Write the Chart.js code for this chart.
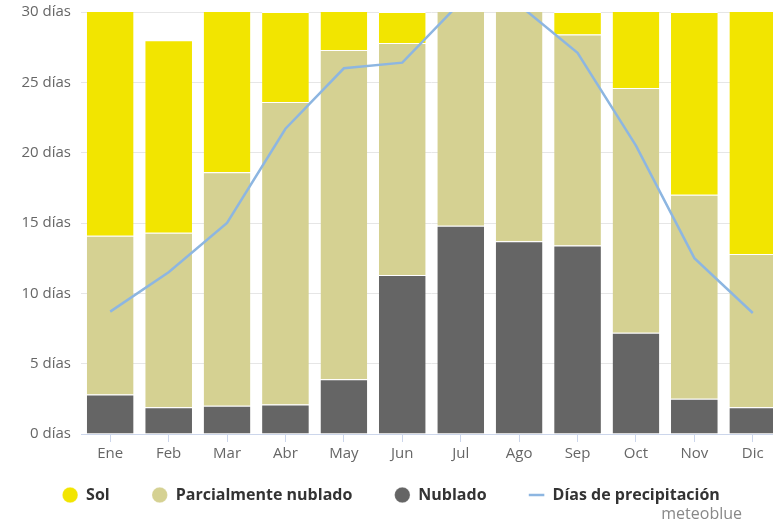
<!DOCTYPE html>
<html>
<head>
<meta charset="utf-8">
<script src="https://cdn.jsdelivr.net/npm/chart.js@4.4.1/dist/chart.umd.min.js"></script>
<style>
  html, body { margin: 0; padding: 0; background: #fff; overflow: hidden; }
  #wrap { position: relative; width: 790px; height: 524px; }
</style>
</head>
<body>
<div id="wrap"><canvas id="cloudChart"></canvas></div>
<script>
const meses = ['Ene', 'Feb', 'Mar', 'Abr', 'May', 'Jun', 'Jul', 'Ago', 'Sep', 'Oct', 'Nov', 'Dic'];

// días por mes y tipo de cielo (se apilan de abajo hacia arriba)
const nublado = [2.8, 1.9, 2.0, 2.1, 3.9, 11.3, 14.8, 13.7, 13.4, 7.2, 2.5, 1.9];
const parcialmenteNublado = [11.3, 12.4, 16.6, 21.5, 23.4, 16.5, 15.8, 16.9, 15.0, 17.4, 14.5, 10.9];
const sol = [16.9, 13.7, 12.4, 6.4, 3.7, 2.2, 0.4, 0.4, 1.6, 6.4, 13.0, 18.2];
const diasPrecipitacion = [8.7, 11.5, 15.0, 21.7, 26.0, 26.4, 30.7, 30.5, 27.1, 20.5, 12.5, 8.6];

const yTicks = [0, 5, 10, 15, 20, 25, 30];

const FONT = "'Open Sans', sans-serif";

// marca de agua "meteoblue" abajo a la derecha
const creditPlugin = {
    id: 'credit',
    afterDraw(chart) {
        const ctx = chart.ctx;
        ctx.save();
        ctx.font = '16px ' + FONT;
        ctx.fillStyle = '#888';
        ctx.textAlign = 'right';
        ctx.textBaseline = 'middle';
        ctx.fillText('meteoblue', chart.chartArea.right - 40, chart.height - 10);
        ctx.restore();
    }
};

// la leyenda ocupa menos alto y se dibuja más cerca del eje x
const legendTrim = {
    id: 'legendTrim',
    afterInit(chart) {
        const legend = chart.legend;
        const fit = legend.fit;
        legend.fit = function () {
            fit.call(this);
            this.height -= 22;
        };
    },
    afterLayout(chart) {
        chart.legend.top -= 21;
    }
};

const legendOrder = [2, 1, 0, 3];

new Chart(document.getElementById('cloudChart'), {
    type: 'bar',
    data: {
        labels: meses,
        datasets: [
            {
                label: 'Nublado',
                data: nublado,
                backgroundColor: '#656565',
                borderColor: '#ffffff',
                borderWidth: { top: 1 },
                borderSkipped: 'bottom',
                pointStyle: 'circle',
                order: 1
            },
            {
                label: 'Parcialmente nublado',
                data: parcialmenteNublado,
                backgroundColor: '#d5d192',
                borderColor: '#ffffff',
                borderWidth: { top: 1 },
                borderSkipped: 'bottom',
                pointStyle: 'circle',
                order: 1
            },
            {
                label: 'Sol',
                data: sol,
                backgroundColor: '#f2e500',
                borderColor: '#ffffff',
                borderWidth: { top: 1 },
                borderSkipped: 'bottom',
                pointStyle: 'circle',
                order: 1
            },
            {
                type: 'line',
                label: 'Días de precipitación',
                data: diasPrecipitacion,
                borderColor: '#8db6e1',
                backgroundColor: '#8db6e1',
                borderWidth: 2.5,
                pointRadius: 0,
                pointStyle: 'line',
                tension: 0,
                stack: 'precip',
                order: 0
            }
        ]
    },
    options: {
        responsive: true,
        maintainAspectRatio: false,
        animation: false,
        datasets: {
            bar: { barPercentage: 0.8, categoryPercentage: 1 }
        },
        layout: { padding: { top: 12, right: 8, bottom: 12 } },
        plugins: {
            tooltip: { enabled: false },
            legend: {
                position: 'bottom',
                labels: {
                    usePointStyle: true,
                    boxHeight: 11,
                    padding: 42,
                    color: '#333',
                    font: { family: FONT, size: 16, weight: 'bold' },
                    sort: (a, b) => legendOrder.indexOf(a.datasetIndex) - legendOrder.indexOf(b.datasetIndex)
                }
            }
        },
        scales: {
            x: {
                stacked: true,
                grid: {
                    offset: false,
                    drawOnChartArea: false,
                    tickLength: 8,
                    color: '#ccd6eb'
                },
                border: { color: '#ccd6eb' },
                ticks: { color: '#666', font: { family: FONT, size: 15 }, padding: 3 }
            },
            y: {
                stacked: true,
                min: 0,
                max: 30,
                afterBuildTicks: axis => { axis.ticks = yTicks.map(v => ({ value: v })); },
                afterFit: axis => {
                    axis.width = 81;
                    axis.paddingTop = 0;
                    axis.paddingBottom = 0;
                },
                grid: { color: '#e6e6e6', drawTicks: false },
                border: { display: false },
                ticks: {
                    color: '#666',
                    padding: 10,
                    font: { family: FONT, size: 15 },
                    callback: v => v + ' días'
                }
            }
        }
    },
    plugins: [creditPlugin, legendTrim]
});
</script>
</body>
</html>
